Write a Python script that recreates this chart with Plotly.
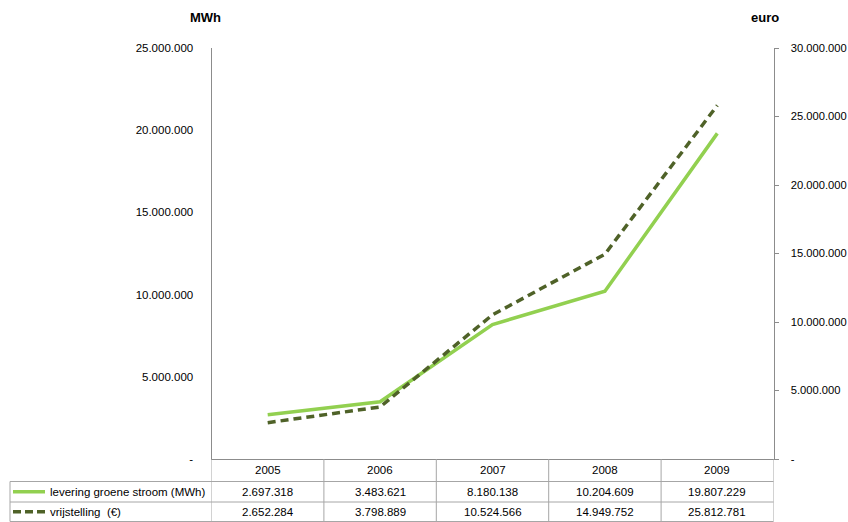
import plotly.graph_objects as go

# Data
years = ["2005", "2006", "2007", "2008", "2009"]
levering_mwh = [2697318, 3483621, 8180138, 10204609, 19807229]
vrijstelling_eur = [2652284, 3798889, 10524566, 14949752, 25812781]
series_names = ["levering groene stroom (MWh)", "vrijstelling  (\u20ac)"]

left_ticks = [0, 5000000, 10000000, 15000000, 20000000, 25000000]
right_ticks = [0, 5000000, 10000000, 15000000, 20000000, 25000000, 30000000]

GREEN = "#92D050"
OLIVE = "#4F6228"
AXIS_GREY = "#8C8C8C"
TABLE_GREY = "#A6A6A6"
FONT = "Liberation Sans, Arial, sans-serif"

W, H = 848, 522


def fmt(v):
    """Dutch thousands separator; zero shown as a dash."""
    if v == 0:
        return "-"
    return f"{v:,}".replace(",", ".")


def py(pix):
    """Pixel row (from top) to paper y."""
    return 1 - pix / H


def px(pix):
    return pix / W


x_idx = list(range(len(years)))

fig = go.Figure()
fig.add_trace(go.Scatter(
    x=x_idx, y=levering_mwh, name=series_names[0], mode="lines",
    line=dict(color=GREEN, width=3.5), yaxis="y", showlegend=False,
))
fig.add_trace(go.Scatter(
    x=x_idx, y=vrijstelling_eur, name=series_names[1], mode="lines",
    line=dict(color=OLIVE, width=3.5, dash="8px,5px"), yaxis="y2", showlegend=False,
))

plot_left, plot_right = 211.5, 773.5
plot_top, plot_bottom = 48, 459

fig.update_layout(
    width=W, height=H,
    margin=dict(l=0, r=0, t=0, b=0, autoexpand=False),
    showlegend=False,
    paper_bgcolor="white", plot_bgcolor="white",
    font=dict(family=FONT, size=11.5, color="#000000"),
    xaxis=dict(
        domain=[px(plot_left), px(plot_right)],
        range=[-0.5, len(years) - 0.5],
        showgrid=False, zeroline=False, showticklabels=False, ticks="",
        showline=True, linecolor=AXIS_GREY, linewidth=1,
        fixedrange=True,
    ),
    yaxis=dict(
        domain=[py(plot_bottom), py(plot_top)],
        range=[0, 25000000],
        tickvals=left_ticks, ticktext=[fmt(v) for v in left_ticks],
        showgrid=False, zeroline=False, ticks="",
        showline=True, linecolor=AXIS_GREY, linewidth=1,
        ticklabelstandoff=15,
    ),
    yaxis2=dict(
        domain=[py(plot_bottom), py(plot_top)],
        overlaying="y", side="right", anchor="x",
        range=[0, 30000000],
        tickvals=right_ticks, ticktext=[fmt(v) for v in right_ticks],
        showgrid=False, zeroline=False,
        ticks="outside", ticklen=4, tickcolor=AXIS_GREY,
        showline=True, linecolor=AXIS_GREY, linewidth=1,
        ticklabelstandoff=10,
        tickfont=dict(size=11.2),
    ),
)

# Axis unit titles
fig.add_annotation(text="<b>MWh</b>", x=px(205), y=py(18), xref="paper", yref="paper",
                   xanchor="center", yanchor="middle",
                   showarrow=False, font=dict(size=13, family=FONT))
fig.add_annotation(text="<b>euro</b>", x=px(765), y=py(18), xref="paper", yref="paper",
                   xanchor="center", yanchor="middle",
                   showarrow=False, font=dict(size=13, family=FONT))

# Data table below the chart
row_lines = [plot_bottom, 481.5, 502, 521.5]
label_left = 10
shapes = []

# vertical column dividers through the table (including outer borders)
for i in range(len(years) + 1):
    shapes.append(dict(type="line", xref="x", yref="paper",
                       x0=i - 0.5, x1=i - 0.5, y0=py(row_lines[0]), y1=py(row_lines[-1]),
                       line=dict(color=TABLE_GREY, width=1)))
# horizontal row lines
for r in row_lines[1:]:
    shapes.append(dict(type="line", xref="paper", yref="paper",
                       x0=px(label_left), x1=px(plot_right), y0=py(r), y1=py(r),
                       line=dict(color=TABLE_GREY, width=1)))
# left border of the label column
shapes.append(dict(type="line", xref="paper", yref="paper",
                   x0=px(label_left), x1=px(label_left), y0=py(row_lines[1]), y1=py(row_lines[-1]),
                   line=dict(color=TABLE_GREY, width=1)))

row_centres = [(row_lines[k] + row_lines[k + 1]) / 2 for k in range(3)]

# legend keys inside the table
shapes.append(dict(type="line", xref="paper", yref="paper",
                   x0=px(13), x1=px(45), y0=py(row_centres[1]), y1=py(row_centres[1]),
                   line=dict(color=GREEN, width=3.5)))
shapes.append(dict(type="line", xref="paper", yref="paper",
                   x0=px(13), x1=px(45), y0=py(row_centres[2]), y1=py(row_centres[2]),
                   line=dict(color=OLIVE, width=3.5, dash="8px,4px")))
fig.update_layout(shapes=shapes)

for i, yr in enumerate(years):
    fig.add_annotation(text=yr, x=i, y=py(row_centres[0]), xref="x", yref="paper",
                       showarrow=False, xanchor="center", yanchor="middle")
for r, (name, vals) in enumerate([(series_names[0], levering_mwh),
                                  (series_names[1], vrijstelling_eur)]):
    fig.add_annotation(text=name, x=px(48), y=py(row_centres[r + 1]), xref="paper", yref="paper",
                       showarrow=False, xanchor="left", yanchor="middle")
    for i, v in enumerate(vals):
        fig.add_annotation(text=fmt(v), x=i, y=py(row_centres[r + 1]), xref="x", yref="paper",
                           showarrow=False, xanchor="center", yanchor="middle")

fig.write_html("out.html")
